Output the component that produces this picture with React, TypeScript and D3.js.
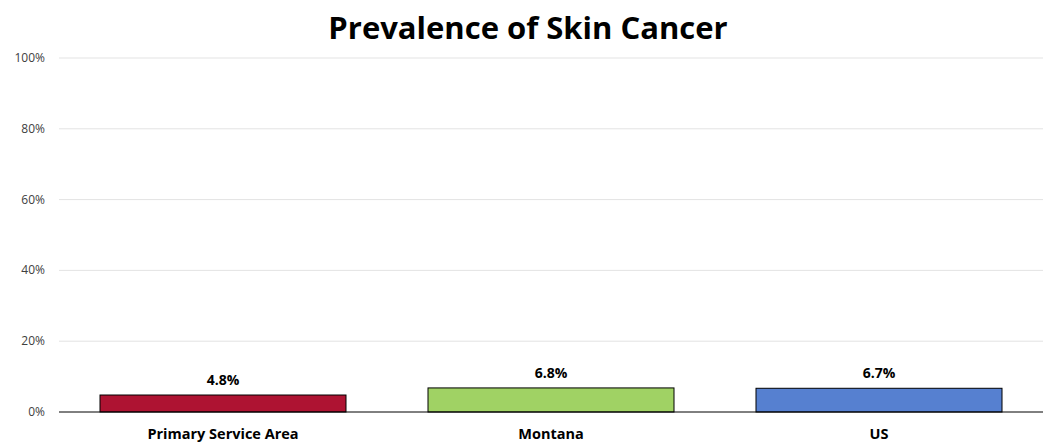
import React from "react";
import * as d3 from "d3";

const categories = ["Primary Service Area", "Montana", "US"];
const values = [4.8, 6.8, 6.7];
const colors = ["#AE1332", "#A0D264", "#5680D0"];
const ticks = [0, 20, 40, 60, 80, 100];
const title = "Prevalence of Skin Cancer";

export default function App() {
  const W = 1050, H = 443;
  const left = 59, right = 1043, top = 58, bottom = 412;
  const x = d3.scaleBand<string>().domain(categories).range([left, right]).paddingInner(0.25).paddingOuter(0.125);
  const y = d3.scaleLinear().domain([0, 100]).range([bottom, top]);
  const font = "'Open Sans', 'Noto Sans', sans-serif";
  return (
    <svg width={W} height={H} style={{ position: "absolute", left: 0, top: 0 }} fontFamily={font}>
      <rect width={W} height={H} fill="#fff" />
      <text x={528} y={39} textAnchor="middle" fontSize={31} fontWeight="bold" fill="#000">{title}</text>
      {ticks.map((t) => (
        <g key={t}>
          {t > 0 && <line x1={left} x2={right} y1={y(t)} y2={y(t)} stroke="#e3e3e3" strokeWidth={1} />}
          <text x={45} y={y(t) + 4} textAnchor="end" fontSize={12} fill="#404040">{t}%</text>
        </g>
      ))}
      {categories.map((c, i) => (
        <g key={c}>
          <rect x={x(c)!} y={y(values[i])} width={x.bandwidth()} height={bottom - y(values[i])} fill={colors[i]} stroke="#000" strokeWidth={1} />
          <text x={x(c)! + x.bandwidth() / 2} y={y(values[i]) - 10} textAnchor="middle" fontSize={14} fontWeight="bold" fill="#000">{values[i].toFixed(1)}%</text>
          <text x={x(c)! + x.bandwidth() / 2} y={439} textAnchor="middle" fontSize={14.5} fontWeight="bold" fill="#000">{c}</text>
        </g>
      ))}
      <line x1={left} x2={right} y1={bottom} y2={bottom} stroke="#000" strokeWidth={1} />
    </svg>
  );
}
